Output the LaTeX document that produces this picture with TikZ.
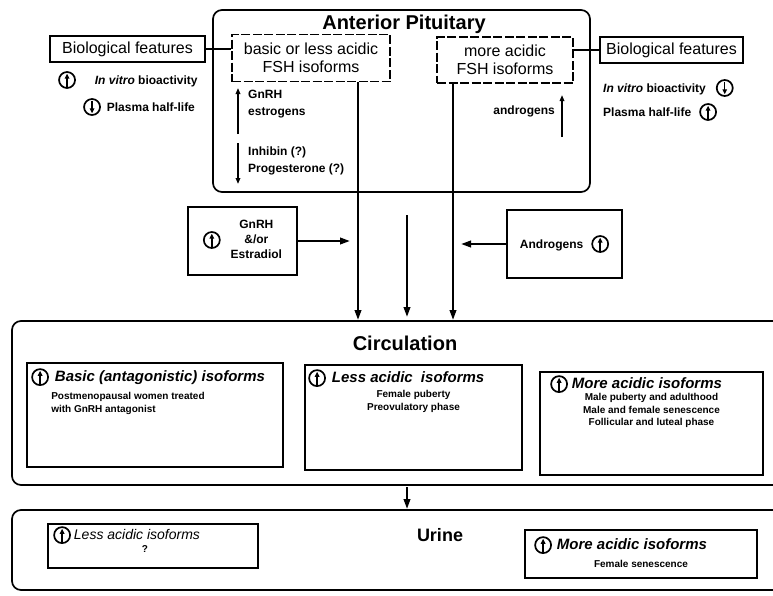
\documentclass[tikz,border=0pt]{standalone}
\usepackage{fontspec}
\setmainfont{Liberation Sans}
\usetikzlibrary{arrows.meta, positioning}

% circled arrows: raised / lowered
\newcommand{\isoup}{\tikz[baseline=-4pt, x=1pt, y=1pt]{%
    \draw[line width=1.7pt] (0, 0) circle (8);
    \draw[line width=1.5pt, -{Triangle[length=5pt, width=4.5pt]}] (0, -6.5) -- (0, 6.3);}}
\newcommand{\isodown}{\tikz[baseline=-4pt, x=1pt, y=1pt]{%
    \draw[line width=1.7pt] (0, 0) circle (8);
    \draw[line width=1.5pt, -{Triangle[length=5pt, width=4.5pt]}] (0, 6.5) -- (0, -6.3);}}

\tikzset{
    organ/.style     = {line width=1.7pt, rounded corners=9pt},
    isobox/.style    = {draw, line width=1.4pt, dash pattern=on 9pt off 2.5pt, align=center,
                        font=\fontsize{16}{18}\selectfont, inner sep=1pt},
    biobox/.style    = {draw, line width=1.6pt, font=\fontsize{16}{18}\selectfont,
                        minimum height=26pt, inner sep=1pt},
    feature/.style   = {font=\bfseries\fontsize{12}{14}\selectfont, inner sep=0pt},
    regtext/.style   = {font=\bfseries\fontsize{12}{17}\selectfont, align=left, inner sep=0pt},
    srcbox/.style    = {draw, line width=1.6pt, font=\bfseries\fontsize{12}{14}\selectfont, inner sep=2pt},
    card/.style      = {draw, line width=1.9pt, inner sep=0pt},
    cardtitle/.style = {font=\bfseries\itshape\fontsize{15}{17}\selectfont, inner sep=0pt},
    cardtext/.style  = {font=\bfseries\fontsize{10}{12.5}\selectfont, inner sep=0pt},
    heading/.style   = {font=\bfseries\fontsize{20}{22}\selectfont, inner sep=0pt},
    flow/.style      = {line width=2.2pt, -{Triangle[length=10pt, width=6.5pt]}},
    reg/.style       = {line width=1.9pt, -{Triangle[length=6pt, width=4.5pt]}},
}

\begin{document}
\begin{tikzpicture}[x=1pt, y=-1pt]
    \useasboundingbox (0, 0) rectangle (773, 595);

    % anterior pituitary
    \draw[organ] (213, 10) rectangle (590, 192);
    \node[heading] (pit) at (404, 24) {Anterior Pituitary};

    \node[isobox, minimum width=158pt, minimum height=47pt] (basic) at (311, 58) {basic or less acidic\\FSH isoforms};
    \node[isobox, minimum width=136pt, minimum height=46pt] (acidic) at (505, 60) {more acidic\\FSH isoforms};

    % biological features
    \node[biobox, minimum width=155pt] (bioL) at (127.5, 49) {Biological features};
    \node[biobox, minimum width=143pt] (bioR) at (671.5, 50) {Biological features};
    \draw[line width=1.4pt] (bioL.east) -- (bioL.east -| basic.west);
    \draw[line width=1.4pt] (acidic.east |- bioR.west) -- (bioR.west);

    \node[feature, anchor=west] (vitroL)  at (58, 80)   {\isoup\hspace{19pt}\textit{In vitro} bioactivity};
    \node[feature, anchor=west] (plasmaL) at (83, 107)  {\isodown\hspace{6pt}Plasma half-life};
    \node[feature, anchor=west] (vitroR)  at (603, 88)  {\textit{In vitro} bioactivity\hspace{10pt}\isodown};
    \node[feature, anchor=west] (plasmaR) at (603, 112) {Plasma half-life\hspace{8pt}\isoup};

    % regulation inside the pituitary
    \node[regtext, anchor=north west] (gnrhPit) at (248, 90)  {GnRH\\estrogens};
    \node[regtext, anchor=north west] (inhib)   at (248, 147) {Inhibin (?)\\Progesterone (?)};
    \node[regtext, anchor=north east] (andPit)  at (555, 106) {androgens};
    \coordinate (gUp0) at (238, 134);  \coordinate (gUp1) at (238, 88);
    \coordinate (iDn0) at (238, 143);  \coordinate (iDn1) at (238, 184);
    \coordinate (aUp0) at (562, 137);  \coordinate (aUp1) at (562, 95);
    \draw[reg] (gUp0) -- (gUp1);
    \draw[reg] (iDn0) -- (iDn1);
    \draw[reg] (aUp0) -- (aUp1);

    % release into circulation
    \coordinate (cL) at (358, 320);
    \coordinate (cR) at (453, 320);
    \coordinate (cM0) at (407, 215);  \coordinate (cM) at (407, 317);
    \draw[flow] (basic.south -| cL) -- (cL);
    \draw[flow] (acidic.south -| cR) -- (cR);
    \draw[flow] (cM0) -- (cM);

    \node[srcbox, minimum width=109pt, minimum height=68pt] (gnrh) at (242.5, 241)
        {\isoup\hspace{10pt}\begin{tabular}{@{}c@{}}GnRH\\[1pt]\&/or\\[1pt]Estradiol\end{tabular}};
    \node[srcbox, minimum width=115pt, minimum height=68pt] (andro) at (564.5, 244)
        {Androgens\hspace{8pt}\isoup};
    \coordinate (gIn) at (350, 243);
    \coordinate (aIn) at (461, 245);
    \draw[flow] (gnrh.east) -- (gnrh.east -| gIn);
    \draw[flow] (andro.west) -- (andro.west -| aIn);

    % circulation
    \draw[organ] (780, 321) -- (12, 321) -- (12, 485) -- (780, 485);
    \node[heading] (circ) at (405, 343) {Circulation};

    \node[card, minimum width=256pt, minimum height=104pt] (cardA) at (155, 415) {};
    \node[cardtitle, below right=6pt and 5pt of cardA.north west] (titleA) {\isoup\hspace{6pt}Basic (antagonistic) isoforms};
    \node[cardtext, align=left, below right=30pt and 25pt of cardA.north west] (bodyA)
        {Postmenopausal women treated\\with GnRH antagonist};

    \node[card, minimum width=217pt, minimum height=105pt] (cardB) at (413.5, 417.5) {};
    \node[cardtitle, below right=5pt and 4pt of cardB.north west] (titleB) {\isoup\hspace{6pt}Less acidic\hspace{4pt} isoforms};
    \node[cardtext, align=center, below=26pt of cardB.north] (bodyB)
        {Female puberty\\Preovulatory phase};

    \node[card, minimum width=223pt, minimum height=103pt] (cardC) at (651.5, 423.5) {};
    \node[cardtitle, below right=4pt and 11pt of cardC.north west] (titleC) {\isoup\hspace{4pt}More acidic isoforms};
    \node[cardtext, align=center, below=22pt of cardC.north] (bodyC)
        {Male puberty and adulthood\\Male and female senescence\\Follicular and luteal phase};

    % urine
    \coordinate (uOut) at (407, 487);
    \coordinate (uIn) at (407, 509);
    \draw[flow] (uOut) -- (uIn);
    \draw[organ] (780, 510) -- (12, 510) -- (12, 590) -- (780, 590);
    \node[heading, font=\bfseries\fontsize{18}{20}\selectfont] (urine) at (440, 535) {Urine};

    \node[card, minimum width=210pt, minimum height=44pt] (urA) at (153, 546) {};
    \node[cardtitle, font=\itshape\fontsize{14}{16}\selectfont, below right=3pt and 6pt of urA.north west] (urAtitle)
        {\isoup\hspace{3pt}Less acidic isoforms};
    \node[cardtext, below=22pt of urA.north, xshift=-8pt] (urAbody) {?};

    \node[card, minimum width=232pt, minimum height=48pt] (urB) at (641, 554) {};
    \node[cardtitle, below right=7pt and 10pt of urB.north west] (urBtitle) {\isoup\hspace{5pt}More acidic isoforms};
    \node[cardtext, below=31pt of urB.north] (urBbody) {Female senescence};
\end{tikzpicture}
\end{document}
